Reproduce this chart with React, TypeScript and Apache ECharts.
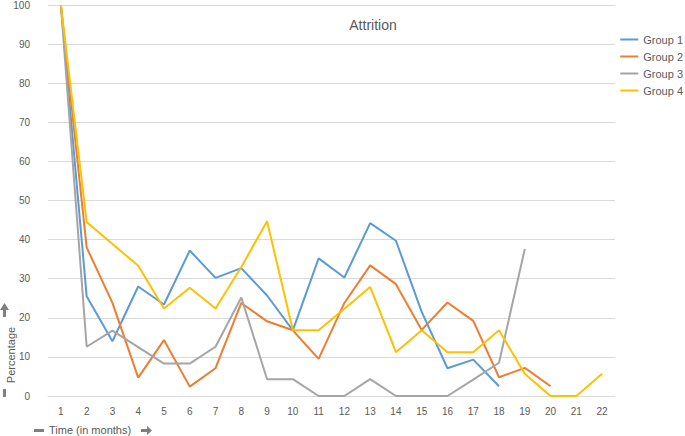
import React, { useEffect, useRef } from "react";
import * as echarts from "echarts";

const months = ["1","2","3","4","5","6","7","8","9","10","11","12","13","14","15","16","17","18","19","20","21","22"];
const group1 = [100, 25.5, 14.0, 28.0, 23.4, 37.2, 30.2, 32.7, 25.7, 16.8, 35.2, 30.3, 44.2, 39.7, 21.5, 7.1, 9.3, 2.5, null, null, null, null];
const group2 = [100, 38.0, 23.8, 4.7, 14.3, 2.4, 7.1, 23.8, 19.1, 16.8, 9.5, 23.8, 33.4, 28.6, 16.9, 23.9, 19.2, 4.8, 7.2, 2.5, null, null];
const group3 = [100, 12.6, 16.7, 12.5, 8.3, 8.3, 12.6, 25.2, 4.3, 4.3, 0, 0, 4.3, 0, 0, 0, 4.2, 8.5, 37.6, null, null, null];
const group4 = [100, 44.5, 38.9, 33.3, 22.4, 27.7, 22.4, 33.0, 44.7, 16.8, 16.8, 22.3, 27.9, 11.2, 16.8, 11.2, 11.2, 16.8, 5.7, 0, 0, 5.7];
const seriesNames = ["Group 1", "Group 2", "Group 3", "Group 4"];
const colors = ["#5B9BD5", "#ED7D31", "#A5A5A5", "#FFC000"];

export default function App() {
  const ref = useRef<HTMLDivElement>(null);
  useEffect(() => {
    if (!ref.current) return;
    const chart = echarts.init(ref.current, null, { renderer: "svg" });
    const data = [group1, group2, group3, group4];
    const font = "'Liberation Sans', Arial, sans-serif";
    chart.setOption({
      animation: false,
      textStyle: { fontFamily: font },
      title: {
        text: "Attrition",
        left: 368,
        top: 13,
        textAlign: "center",
        textStyle: { color: "#595959", fontSize: 14, fontWeight: "normal", fontFamily: font },
      },
      legend: {
        orient: "vertical",
        right: 2,
        top: 34,
        padding: 0,
        icon: "rect",
        itemWidth: 18,
        itemHeight: 2,
        itemGap: 6,
        itemTextGap: 2,
        textStyle: { color: "#595959", fontSize: 11, overflow: "none" },
        data: seriesNames,
      },
      grid: { left: 48, right: 70, top: 5, bottom: 40, containLabel: false },
      xAxis: {
        type: "category",
        data: months,
        boundaryGap: true,
        axisLine: { show: true, lineStyle: { color: "#d9d9d9", width: 1 } },
        axisTick: { show: false },
        axisLabel: { color: "#595959", fontSize: 10, margin: 10 },
      },
      yAxis: {
        type: "value",
        min: 0,
        max: 100,
        interval: 10,
        axisLine: { show: false },
        axisTick: { show: false },
        axisLabel: { color: "#595959", fontSize: 10, margin: 18 },
        splitLine: { lineStyle: { color: "#d9d9d9", width: 1 } },
      },
      series: data.map((d, i) => ({
        name: seriesNames[i],
        type: "line",
        data: d,
        showSymbol: false,
        symbol: "none",
        connectNulls: false,
        lineStyle: { color: colors[i], width: 2 },
        itemStyle: { color: colors[i] },
      })),
      graphic: [
        { type: "rect", left: 34, top: 429, shape: { width: 10, height: 3 }, style: { fill: "#7f7f7f" } },
        { type: "text", left: 49, top: 424, style: { text: "Time (in months)", fill: "#595959", font: "11px " + font } },
        { type: "polygon", shape: { points: [[141, 429], [147, 429], [147, 426], [152, 430.5], [147, 435], [147, 432], [141, 432]] }, style: { fill: "#7f7f7f" } },
        { type: "rect", left: 3, top: 389, shape: { width: 3, height: 8 }, style: { fill: "#7f7f7f" } },
        { type: "text", x: 11, y: 355, rotation: Math.PI / 2, style: { text: "Percentage", fill: "#595959", font: "11px " + font, align: "center", verticalAlign: "middle" } },
        { type: "polygon", shape: { points: [[3, 317], [3, 310], [0, 310], [4.5, 303], [9, 310], [6, 310], [6, 317]] }, style: { fill: "#7f7f7f" } },
      ],
    });
    return () => chart.dispose();
  }, []);
  return <div ref={ref} style={{ width: 685, height: 436, position: "absolute", left: 0, top: 0 }} />;
}
